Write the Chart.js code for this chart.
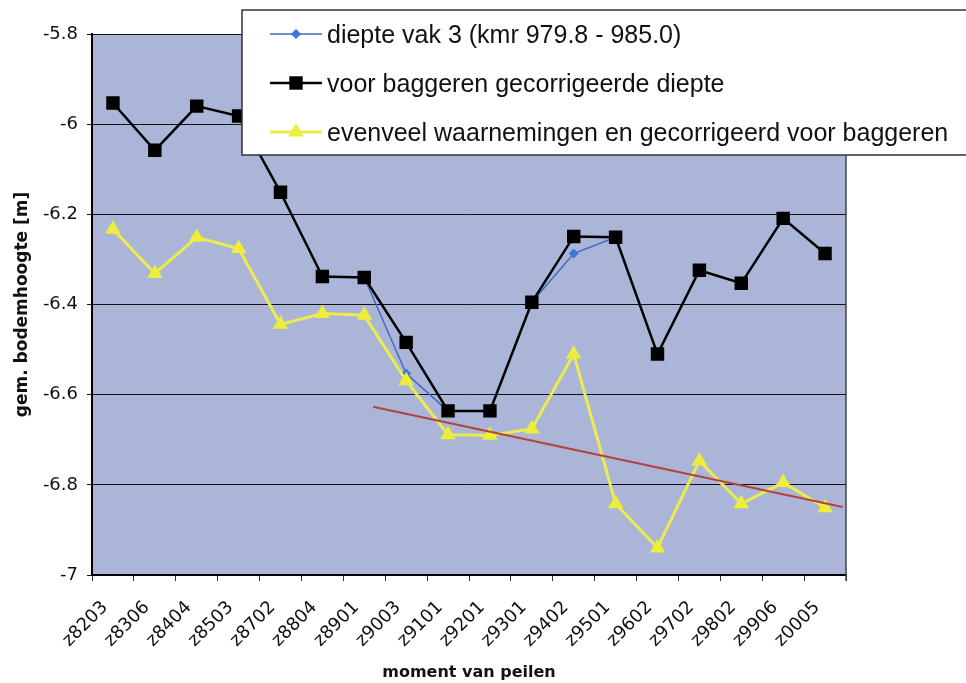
<!DOCTYPE html>
<html>
<head>
<meta charset="utf-8">
<script src="https://cdn.jsdelivr.net/npm/chart.js"></script>
<style>
  html, body { margin: 0; padding: 0; background: #fff; }
  canvas { display: block; }
</style>
</head>
<body>
<canvas id="peilChart" width="966" height="683"></canvas>
<script>
// peilmomenten (categorie-as)
const momenten = ['z8203', 'z8306', 'z8404', 'z8503', 'z8702', 'z8804', 'z8901', 'z9003', 'z9101',
  'z9201', 'z9301', 'z9402', 'z9501', 'z9602', 'z9702', 'z9802', 'z9906', 'z0005'];

const diepteVak3 = [-5.953, -6.058, -5.960, -5.982, -6.151, -6.338, -6.340, -6.553, -6.636,
  -6.636, -6.395, -6.287, -6.251, -6.510, -6.324, -6.353, -6.209, -6.287];
const voorBaggeren = [-5.953, -6.058, -5.960, -5.982, -6.151, -6.338, -6.340, -6.484, -6.636,
  -6.636, -6.395, -6.249, -6.251, -6.510, -6.324, -6.353, -6.209, -6.287];
const evenveel = [-6.233, -6.331, -6.251, -6.276, -6.444, -6.420, -6.424, -6.569, -6.689,
  -6.690, -6.676, -6.510, -6.842, -6.940, -6.747, -6.842, -6.795, -6.851];

// trendlijn (begin/eind, in categorie-index)
const trendX = [6.21, 17.42];
const trendY = [-6.627, -6.849];

const plotBg = '#abb5d8';

const plotBackground = {
  id: 'plotBackground',
  beforeDraw(chart) {
    const { ctx, chartArea: a } = chart;
    ctx.save();
    ctx.fillStyle = '#fff';
    ctx.fillRect(0, 0, chart.width, chart.height);
    ctx.fillStyle = plotBg;
    ctx.fillRect(a.left, a.top, a.right - a.left, a.bottom - a.top);
    ctx.restore();
  },
  afterDatasetsDraw(chart) {
    const { ctx, chartArea: a } = chart;
    ctx.save();
    ctx.strokeStyle = '#444';
    ctx.lineWidth = 1.5;
    ctx.beginPath();
    ctx.moveTo(a.right, a.top);
    ctx.lineTo(a.right, a.bottom + 6);
    ctx.stroke();
    ctx.restore();
  }
};

function marker(ctx, style, x, y, r, color) {
  ctx.fillStyle = color;
  ctx.beginPath();
  if (style === 'rect') {
    const s = r * Math.SQRT1_2;
    ctx.rect(x - s, y - s, 2 * s, 2 * s);
  } else if (style === 'triangle') {
    ctx.moveTo(x, y - r);
    ctx.lineTo(x + r * 0.866, y + r * 0.5);
    ctx.lineTo(x - r * 0.866, y + r * 0.5);
    ctx.closePath();
  } else {
    ctx.moveTo(x - r, y);
    ctx.lineTo(x, y - r);
    ctx.lineTo(x + r, y);
    ctx.lineTo(x, y + r);
    ctx.closePath();
  }
  ctx.fill();
}

// legenda zweeft over de grafiek, zoals in het origineel
const floatingLegend = {
  id: 'floatingLegend',
  afterDraw(chart) {
    const ctx = chart.ctx;
    ctx.save();
    ctx.fillStyle = '#fff';
    ctx.fillRect(242, 10, 740, 145);
    ctx.strokeStyle = '#333';
    ctx.lineWidth = 1.5;
    ctx.strokeRect(242, 10, 740, 145);
    ctx.font = '25px "Liberation Sans", Arial, sans-serif';
    ctx.textBaseline = 'alphabetic';
    chart.data.datasets.filter(d => !d.isTrend).forEach((d, i) => {
      const y = 34 + i * 49;
      ctx.strokeStyle = d.borderColor;
      ctx.lineWidth = d.borderWidth;
      ctx.beginPath();
      ctx.moveTo(270, y);
      ctx.lineTo(322, y);
      ctx.stroke();
      marker(ctx, d.pointStyle, 296, y, d.pointRadius, d.pointBackgroundColor);
      ctx.fillStyle = '#111';
      ctx.fillText(d.label, 327, y + 9);
    });
    ctx.restore();
  }
};

new Chart(document.getElementById('peilChart'), {
  type: 'line',
  data: {
    labels: momenten,
    datasets: [
      {
        label: 'diepte vak 3 (kmr 979.8 - 985.0)',
        data: diepteVak3,
        borderColor: '#3f6cc4',
        borderWidth: 1.5,
        pointStyle: 'rectRot',
        pointRadius: 5,
        pointBackgroundColor: '#3a78d8',
        pointBorderWidth: 0,
        order: 3
      },
      {
        label: 'voor baggeren gecorrigeerde diepte',
        data: voorBaggeren,
        borderColor: '#000',
        borderWidth: 2.5,
        pointStyle: 'rect',
        pointRadius: 9.5,
        pointBackgroundColor: '#000',
        pointBorderWidth: 0,
        order: 2
      },
      {
        label: 'evenveel waarnemingen en gecorrigeerd voor baggeren',
        data: evenveel,
        borderColor: '#ecec4c',
        borderWidth: 3,
        pointStyle: 'triangle',
        pointRadius: 9,
        pointBackgroundColor: '#eeee3a',
        pointBorderWidth: 0,
        order: 1
      },
      {
        label: 'trend',
        isTrend: true,
        data: trendX.map((x, i) => ({ x: x, y: trendY[i] })),
        xAxisID: 'xt',
        borderColor: '#b3433c',
        borderWidth: 2,
        pointRadius: 0,
        order: 0
      }
    ]
  },
  options: {
    responsive: false,
    animation: false,
    layout: { padding: { top: 34, right: 120, left: 0, bottom: 0 } },
    plugins: {
      legend: { display: false },
      tooltip: { enabled: false }
    },
    elements: { line: { tension: 0 } },
    scales: {
      x: {
        type: 'category',
        offset: true,
        grid: {
          offset: true,
          drawOnChartArea: false,
          color: '#333',
          tickLength: 6
        },
        border: { color: '#000', width: 2 },
        ticks: {
          autoSkip: false,
          minRotation: 45,
          maxRotation: 45,
          padding: 16,
          labelOffset: -8,
          color: '#111',
          font: { family: '"DejaVu Sans"', size: 18 }
        },
        title: {
          display: true,
          text: 'moment van peilen',
          color: '#111',
          padding: { top: 4, bottom: 1 },
          font: { family: '"DejaVu Sans"', size: 16, weight: 'bold' }
        },
        afterFit(scale) { scale.height = 108; }
      },
      xt: {
        type: 'linear',
        display: false,
        min: -0.5,
        max: 17.5
      },
      y: {
        min: -7,
        max: -5.8,
        ticks: {
          stepSize: 0.2,
          padding: 9,
          color: '#111',
          font: { family: '"DejaVu Sans"', size: 18 },
          callback: v => String(Number(v.toFixed(1)))
        },
        grid: { color: '#111', lineWidth: 1, tickLength: 5 },
        border: { color: '#000', width: 2 },
        title: {
          display: true,
          text: 'gem. bodemhoogte [m]',
          color: '#111',
          padding: { top: 12, bottom: 0 },
          font: { family: '"DejaVu Sans"', size: 17, weight: 'bold' }
        },
        afterFit(scale) { scale.width = 92; }
      }
    }
  },
  plugins: [plotBackground, floatingLegend]
});
</script>
</body>
</html>
